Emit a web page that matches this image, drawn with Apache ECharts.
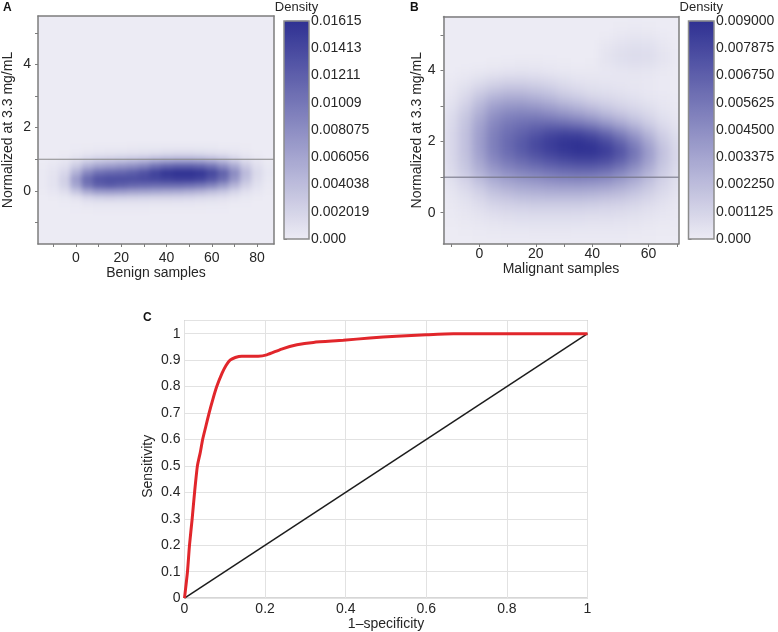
<!DOCTYPE html>
<html><head><meta charset="utf-8">
<script src="https://cdn.jsdelivr.net/npm/echarts@6/dist/echarts.min.js"></script>
<style>html,body{margin:0;padding:0;background:#fff}#chart{width:778px;height:632px;background:#fff}</style>
</head><body><div id="chart"></div>
<script>
// ---------------- Panel A: benign samples (density in units of 1e-3) ----------------
const benignX = [-15,-10,-5,0,5,10,15,20,25,30,35,40,45,50,55,60,65,70,75,80,85];
const benignY = [-0.6,-0.4,-0.2,0,0.2,0.4,0.6,0.8,1.0,1.2,1.4];
const benignDensity = [
  [0,0,0,0.05,0.1,0.15,0.15,0.15,0.15,0.15,0.12,0.12,0.1,0.1,0.1,0.08,0.05,0.03,0,0,0],
  [0,0,0.05,0.2,0.4,0.5,0.5,0.5,0.5,0.5,0.45,0.45,0.4,0.4,0.35,0.3,0.25,0.12,0.05,0,0],
  [0,0.1,0.3,0.8,1.7,2.2,2.3,2.2,2.1,2,1.9,1.9,1.8,1.7,1.5,1.3,1,0.6,0.3,0.1,0],
  [0.1,0.4,1.1,3.2,5.6,6.8,7,6.8,6.4,6.2,6,5.8,5.6,5.3,4.8,4,3.2,2,1,0.4,0.1],
  [0.2,0.7,2.1,6,10,12,12.5,12,11.5,11.2,11,11,11,10.6,10,9,7.2,4.8,2.4,0.9,0.2],
  [0.2,0.7,2.3,6.8,11,13,13.5,13.5,13.5,13.8,14.2,14.6,15,15,14.5,13,11,7.4,3.7,1.3,0.3],
  [0.2,0.6,1.7,5,8.6,10.6,11.2,11.6,12.2,13.2,14.5,15.6,16.1,16.1,15.6,14.2,11.8,8.2,4.2,1.5,0.4],
  [0.1,0.4,1,2.8,5,6.2,6.8,7.4,8,9,10.5,11.5,12,12,11.5,10.4,8.2,5.8,2.9,1.1,0.3],
  [0,0.1,0.4,1.1,2,2.7,3,3.3,3.7,4.2,4.9,5.4,5.7,5.7,5.4,4.8,3.8,2.5,1.2,0.5,0.1],
  [0,0,0.1,0.25,0.5,0.7,0.8,0.9,1,1.1,1.3,1.5,1.6,1.6,1.5,1.3,1,0.7,0.35,0.1,0],
  [0,0,0,0.05,0.1,0.15,0.2,0.2,0.25,0.3,0.3,0.35,0.35,0.35,0.3,0.3,0.2,0.15,0.1,0,0]
];
const benignXRange = [-16.8, 87.5];
const benignYRange = [-1.68, 5.53];
const benignXTicks = [-10,0,10,20,30,40,50,60,70,80];
const benignXTickLabels = [0,20,40,60,80];
const benignYTicks = [-1,0,1,2,3,4,5];
const benignYTickLabels = [0,2,4];
const benignDensityMax = 16.15;
const benignColorbarLabels = ['0.000','0.002019','0.004038','0.006056','0.008075','0.01009','0.01211','0.01413','0.01615'];
const benignThreshold = 1;

// ---------------- Panel B: malignant samples (density in units of 1e-3) ----------------
const malignantX = [-10,-5,0,5,10,15,20,25,30,35,40,45,50,55,60,65,70];
const malignantY = [-0.75,-0.5,-0.25,0,0.25,0.5,0.75,1.0,1.25,1.5,1.75,2.0,2.25,2.5,2.75,3.0,3.25,3.5,3.75,4.0,4.25,4.5,4.75,5.0,5.25];
const malignantDensity = [
  [0,0,0.05,0.05,0.1,0.1,0.1,0.1,0.1,0.1,0.1,0.1,0.1,0.05,0.05,0,0],
  [0,0.05,0.1,0.15,0.2,0.2,0.25,0.25,0.25,0.2,0.2,0.2,0.2,0.15,0.1,0.05,0.05],
  [0.05,0.15,0.25,0.35,0.45,0.5,0.5,0.5,0.5,0.5,0.45,0.45,0.4,0.35,0.25,0.15,0.1],
  [0.1,0.25,0.45,0.65,0.8,0.85,0.9,0.9,0.9,0.85,0.8,0.75,0.7,0.6,0.45,0.3,0.15],
  [0.15,0.4,0.7,1.1,1.3,1.4,1.5,1.5,1.5,1.5,1.4,1.3,1.2,1.0,0.7,0.45,0.2],
  [0.25,0.6,1.1,1.7,2.0,2.3,2.4,2.5,2.5,2.5,2.4,2.2,2.0,1.6,1.2,0.7,0.35],
  [0.4,0.9,1.6,2.4,2.9,3.2,3.4,3.6,3.7,3.7,3.6,3.4,3.0,2.4,1.7,1.0,0.5],
  [0.6,1.3,2.3,3.2,3.8,4.2,4.5,4.8,5.0,5.1,5.0,4.7,4.1,3.3,2.3,1.3,0.6],
  [0.8,1.7,2.9,4.0,4.8,5.3,5.7,6.1,6.4,6.6,6.6,6.2,5.4,4.3,3.0,1.6,0.8],
  [0.9,1.9,3.3,4.7,5.6,6.2,6.8,7.3,7.7,8.0,8.0,7.6,6.7,5.3,3.6,1.9,0.9],
  [0.9,2.0,3.6,5.1,6.1,6.9,7.6,8.2,8.6,8.9,8.9,8.4,7.3,5.7,3.8,2.0,0.9],
  [0.9,2.0,3.7,5.2,6.2,7.0,7.8,8.4,8.8,8.95,8.6,7.8,6.6,5.0,3.3,1.7,0.8],
  [0.9,2.0,3.6,5.1,6.0,6.6,7.2,7.8,8.1,8.0,7.4,6.4,5.2,3.9,2.5,1.3,0.6],
  [0.8,1.9,3.4,4.8,5.6,6.0,6.3,6.4,6.2,5.8,5.2,4.3,3.4,2.5,1.6,0.8,0.4],
  [0.7,1.7,3.0,4.3,5.0,5.2,5.2,4.9,4.5,4.0,3.4,2.7,2.1,1.5,1.0,0.5,0.25],
  [0.5,1.3,2.5,3.6,4.1,4.2,4.0,3.6,3.1,2.6,2.1,1.6,1.2,0.9,0.6,0.3,0.15],
  [0.35,0.9,1.9,2.7,3.1,3.1,2.8,2.4,1.9,1.5,1.1,0.9,0.7,0.5,0.3,0.2,0.1],
  [0.2,0.6,1.2,1.7,2.0,2.0,1.8,1.5,1.1,0.8,0.6,0.5,0.4,0.3,0.2,0.1,0.05],
  [0.1,0.3,0.6,0.9,1.1,1.1,1.0,0.8,0.6,0.4,0.35,0.3,0.3,0.25,0.2,0.1,0.05],
  [0,0.1,0.2,0.3,0.4,0.45,0.4,0.3,0.2,0.15,0.15,0.2,0.3,0.35,0.3,0.15,0.05],
  [0,0,0,0.05,0.1,0.15,0.15,0.1,0.05,0,0.05,0.35,0.55,0.65,0.6,0.35,0.1],
  [0,0,0,0,0,0,0,0,0,0,0,0.35,0.6,0.7,0.65,0.35,0.1],
  [0,0,0,0,0,0,0,0,0,0,0,0.25,0.45,0.55,0.5,0.25,0.05],
  [0,0,0,0,0,0,0,0,0,0,0,0.05,0.2,0.3,0.25,0.1,0],
  [0,0,0,0,0,0,0,0,0,0,0,0,0.05,0.1,0.05,0,0]
];
const malignantXRange = [-12.7, 70.6];
const malignantYRange = [-0.88, 5.52];
const malignantXTicks = [-10,0,10,20,30,40,50,60,70];
const malignantXTickLabels = [0,20,40,60];
const malignantYTicks = [0,1,2,3,4,5];
const malignantYTickLabels = [0,2,4];
const malignantDensityMax = 9.0;
const malignantColorbarLabels = ['0.000','0.001125','0.002250','0.003375','0.004500','0.005625','0.006750','0.007875','0.009000'];
const malignantThreshold = 1;

// ---------------- Panel C: ROC curve ----------------
const rocFPR = [0,0.0074,0.0124,0.019,0.025,0.032,0.039,0.045,0.053,0.061,0.07,0.080,0.093,0.103,0.113,0.126,0.142,0.16,0.183,0.204,0.241,0.279,0.32,0.394,0.46,0.526,0.60,0.667,0.8,1.0];
const rocTPR = [0,0.1,0.2,0.3,0.4,0.5,0.55,0.6,0.65,0.7,0.75,0.8,0.85,0.88,0.9,0.91,0.915,0.915,0.915,0.92,0.942,0.958,0.967,0.975,0.984,0.99,0.996,1.0,1.0,1.0];
const chanceFPR = [0,1];
const chanceTPR = [0,1];

// ---------------- layout / style ----------------
const LOW = '#ecebf4', HIGH = '#2e3092';
const FONT = '"Liberation Sans", Arial, sans-serif';
const TXT = '#262626';
const BOX = '#7c7c7c';
const gA = {left: 38, top: 16, width: 236, height: 228};
const gB = {left: 443.5, top: 16.5, width: 235, height: 227.5};
const gAc = {left: 284, top: 20.5, width: 25, height: 218.5};
const gBc = {left: 688.5, top: 20.5, width: 25.5, height: 218.5};
const gC = {left: 184.5, top: 320.5, width: 403, height: 278};
const ZA = 0, ZB = 1, TOP = 2;          // canvas layers: A density, B density, everything else
const BLUR_A = 2.6, BLUR_B = 4;

function cells(xs, ys, rows) {
  const out = [];
  ys.forEach((y, j) => xs.forEach((x, i) => out.push([x, y, rows[j][i]])));
  return out;
}
function cellRenderer(dx, dy) {
  return function (params, api) {
    const x = api.value(0), y = api.value(1);
    const a = api.coord([x - dx / 2, y + dy / 2]);
    const b = api.coord([x + dx / 2, y - dy / 2]);
    return {type: 'rect', shape: {x: a[0], y: a[1], width: b[0] - a[0] + 0.7, height: b[1] - a[1] + 0.7},
      style: {fill: api.visual('color')}};
  };
}
const lbl = (extra) => Object.assign({color: TXT, fontSize: 14, fontFamily: FONT}, extra || {});

function mainAxis(grid, range, ticks, labels, name, nameGap, margin) {
  return {type: 'value', gridIndex: grid, min: range[0], max: range[1], zlevel: TOP,
    axisLine: {show: true, onZero: false, lineStyle: {color: BOX, width: 1.5}}, splitLine: {show: false},
    axisTick: {show: true, length: 3, customValues: ticks, lineStyle: {color: BOX}},
    axisLabel: lbl({customValues: labels, margin: margin}),
    name: name, nameLocation: 'middle', nameGap: nameGap, nameTextStyle: lbl()};
}
function frameAxis(grid, pos) {
  return {type: 'value', gridIndex: grid, position: pos, min: 0, max: 1, zlevel: TOP,
    axisLine: {show: true, onZero: false, lineStyle: {color: BOX, width: 1.5}},
    axisTick: {show: false}, axisLabel: {show: false}, splitLine: {show: false}};
}
function cbarX(grid) {
  return {type: 'value', gridIndex: grid, position: 'top', min: 0, max: 1, zlevel: TOP,
    axisLine: {show: false}, axisTick: {show: false}, axisLabel: {show: false}, splitLine: {show: false},
    name: 'Density', nameLocation: 'middle', nameGap: 7, nameTextStyle: lbl({fontSize: 13})};
}
function cbarY(grid, max, labels) {
  const step = max / (labels.length - 1);
  return {type: 'value', gridIndex: grid, position: 'right', min: 0, max: max, interval: step, zlevel: TOP,
    axisLine: {show: false}, splitLine: {show: false},
    axisTick: {show: true, length: 3, lineStyle: {color: '#808080'}},
    axisLabel: lbl({margin: 2, formatter: v => labels[Math.round(v / step)]})};
}
const letter = (t, l, tp) => ({text: t, left: l, top: tp, padding: 0, zlevel: TOP,
  textStyle: {fontSize: 12, fontWeight: 'bold', color: '#111', fontFamily: FONT}});
const pad = (g, z) => ({type: 'rect', zlevel: z, z: -10, silent: true,
  shape: {x: g.left - 12, y: g.top - 12, width: g.width + 24, height: g.height + 24}, style: {fill: LOW}});

const option = {
  animation: false,
  backgroundColor: 'transparent',
  title: [letter('A', 3, 2), letter('B', 410, 2), letter('C', 143, 312)],
  graphic: {elements: [pad(gA, ZA), pad(gB, ZB)]},
  grid: [
    Object.assign({zlevel: ZA, show: false}, gA),
    Object.assign({zlevel: TOP, show: true, backgroundColor: 'transparent', borderColor: '#8c8c8c', borderWidth: 1.5, z: 10}, gAc),
    Object.assign({zlevel: ZB, show: false}, gB),
    Object.assign({zlevel: TOP, show: true, backgroundColor: 'transparent', borderColor: '#8c8c8c', borderWidth: 1.5, z: 10}, gBc),
    Object.assign({zlevel: TOP, show: true, backgroundColor: 'transparent', borderColor: '#9a9a9a', borderWidth: 1}, gC)
  ],
  xAxis: [
    mainAxis(0, benignXRange, benignXTicks, benignXTickLabels, 'Benign samples', 20, 7),
    cbarX(1),
    mainAxis(2, malignantXRange, malignantXTicks, malignantXTickLabels, 'Malignant samples', 16, 3),
    cbarX(3),
    {type: 'value', gridIndex: 4, min: 0, max: 1, interval: 0.2, zlevel: TOP,
      axisLine: {show: false}, axisTick: {show: false},
      splitLine: {show: true, lineStyle: {color: '#e2e2e2', width: 1}},
      axisLabel: lbl({margin: 4}),
      name: '1–specificity', nameLocation: 'middle', nameGap: 17, nameTextStyle: lbl()},
    frameAxis(0, 'top'),
    frameAxis(2, 'top')
  ],
  yAxis: [
    mainAxis(0, benignYRange, benignYTicks, benignYTickLabels, 'Normalized at 3.3 mg/mL', 23, 7),
    cbarY(1, benignDensityMax, benignColorbarLabels),
    mainAxis(2, malignantYRange, malignantYTicks, malignantYTickLabels, 'Normalized at 3.3 mg/mL', 18, 8),
    cbarY(3, malignantDensityMax, malignantColorbarLabels),
    {type: 'value', gridIndex: 4, min: 0, max: 1.05, interval: 0.1, zlevel: TOP,
      axisLine: {show: false}, axisTick: {show: false},
      splitLine: {show: true, lineStyle: {color: '#e2e2e2', width: 1}},
      axisLabel: lbl({margin: 4, showMaxLabel: false}),
      name: 'Sensitivity', nameLocation: 'middle', nameGap: 29, nameMoveOverlap: false,
      nameTextStyle: lbl({padding: [0, 14, 0, 0]})},
    frameAxis(0, 'right'),
    frameAxis(2, 'right')
  ],
  visualMap: [
    {type: 'continuous', seriesIndex: 0, dimension: 2, min: 0, max: benignDensityMax, zlevel: TOP,
      inRange: {color: [LOW, HIGH]}, calculable: false, hoverLink: false, orient: 'vertical',
      left: gAc.left, top: gAc.top, itemWidth: gAc.width, itemHeight: gAc.height, padding: 0},
    {type: 'continuous', seriesIndex: 1, dimension: 2, min: 0, max: malignantDensityMax, zlevel: TOP,
      inRange: {color: [LOW, HIGH]}, calculable: false, hoverLink: false, orient: 'vertical',
      left: gBc.left, top: gBc.top, itemWidth: gBc.width, itemHeight: gBc.height, padding: 0}
  ],
  series: [
    {type: 'custom', xAxisIndex: 0, yAxisIndex: 0, zlevel: ZA, encode: {x: 0, y: 1}, silent: true,
      renderItem: cellRenderer(benignX[1] - benignX[0], benignY[1] - benignY[0]),
      data: cells(benignX, benignY, benignDensity)},
    {type: 'custom', xAxisIndex: 2, yAxisIndex: 2, zlevel: ZB, encode: {x: 0, y: 1}, silent: true,
      renderItem: cellRenderer(malignantX[1] - malignantX[0], malignantY[1] - malignantY[0]),
      data: cells(malignantX, malignantY, malignantDensity)},
    {type: 'line', xAxisIndex: 0, yAxisIndex: 0, zlevel: TOP, symbol: 'none', silent: true,
      lineStyle: {color: '#8a8a8a', width: 1},
      data: [[benignXRange[0], benignThreshold], [benignXRange[1], benignThreshold]]},
    {type: 'line', xAxisIndex: 2, yAxisIndex: 2, zlevel: TOP, symbol: 'none', silent: true,
      lineStyle: {color: '#6e6e7e', width: 1},
      data: [[malignantXRange[0], malignantThreshold], [malignantXRange[1], malignantThreshold]]},
    {type: 'line', xAxisIndex: 4, yAxisIndex: 4, zlevel: TOP, symbol: 'none', silent: true,
      lineStyle: {color: '#1c1c1c', width: 1.5},
      data: chanceFPR.map((x, i) => [x, chanceTPR[i]])},
    {type: 'line', xAxisIndex: 4, yAxisIndex: 4, zlevel: TOP, symbol: 'none', silent: true, smooth: 0.2,
      lineStyle: {color: '#e1262b', width: 3},
      data: rocFPR.map((x, i) => [x, rocTPR[i]])}
  ]
};
const chart = echarts.init(document.getElementById('chart'), null, {renderer: 'canvas'});
chart.setOption(option);

// Smooth (shade) each density layer and confine it to its plot box.
(function () {
  const rectPath = g => `path('M${g.left} ${g.top} H${g.left + g.width} V${g.top + g.height} H${g.left} Z')`;
  const painter = chart.getZr().painter;
  [[ZA, gA, BLUR_A], [ZB, gB, BLUR_B]].forEach(([z, g, blur]) => {
    let c = null;
    try { c = painter.getLayer(z).dom; } catch (e) {}
    if (!c) return;
    c.style.filter = `blur(${blur}px)`;
    c.style.clipPath = rectPath(g);
  });
})();
</script></body></html>
